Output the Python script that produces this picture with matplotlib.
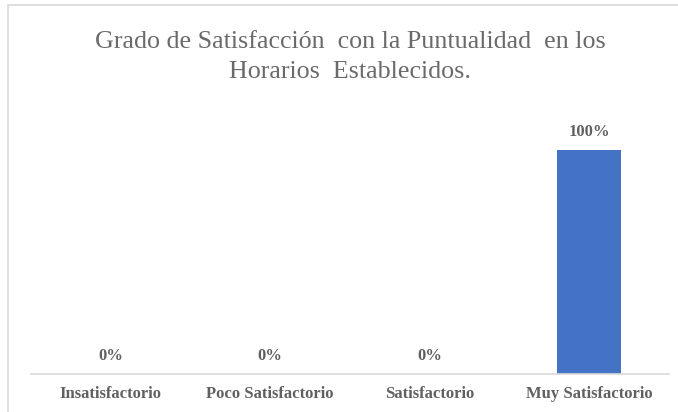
import matplotlib.pyplot as plt
from matplotlib.patches import Rectangle

categories = ["Insatisfactorio", "Poco Satisfactorio", "Satisfactorio", "Muy Satisfactorio"]
values = [0, 0, 0, 100]
value_labels = ["0%", "0%", "0%", "100%"]

TITLE = "Grado de Satisfacción  con la Puntualidad  en los\nHorarios  Establecidos."
BAR_COLOR = "#4472C4"
TEXT_GRAY = "#606060"
TITLE_GRAY = "#6a6a6a"
SERIF = ["Liberation Serif", "DejaVu Serif"]


def main():
    W, H = 678, 412
    fig = plt.figure(figsize=(W / 100, H / 100), dpi=100)

    # chart frame, cut off on the right and bottom like the source screenshot
    fig.patches.append(Rectangle((8 / W, -0.1), 1.2, 1 - 5 / H + 0.1,
                                 transform=fig.transFigure, fill=False,
                                 edgecolor="#d9d9d9", linewidth=1.2))

    left, right = 31 / W, 669 / W
    bottom = 1 - 373.7 / H
    top_px = 373.7 - 1.2 * 223.7
    ax = fig.add_axes([left, bottom, right - left, (373.7 - top_px) / H])

    x = list(range(len(categories)))
    ax.bar(x, values, width=0.40, color=BAR_COLOR)
    ax.set_xlim(-0.5, len(categories) - 0.5)
    ax.set_ylim(0, 120)

    for xi, v, lab in zip(x, values, value_labels):
        ax.annotate(lab, (xi, v), xytext=(0, 13), textcoords="offset points",
                    ha="center", va="center", fontsize=12, fontweight="bold",
                    color=TEXT_GRAY, family=SERIF)

    ax.set_xticks(x)
    ax.set_xticklabels(categories, fontsize=12, fontweight="bold",
                       color=TEXT_GRAY, family=SERIF)
    ax.tick_params(axis="x", length=0, pad=9)
    ax.set_yticks([])

    for s in ["top", "right", "left"]:
        ax.spines[s].set_visible(False)
    ax.spines["bottom"].set_color("#d9d9d9")
    ax.spines["bottom"].set_linewidth(1.2)

    fig.text((left + right) / 2, 1 - 57 / H, TITLE, ha="center", va="center",
             fontsize=18.7, color=TITLE_GRAY, family=SERIF, linespacing=1.45)

    fig.savefig("out.png", dpi=100)
    plt.close(fig)


if __name__ == "__main__":
    main()
